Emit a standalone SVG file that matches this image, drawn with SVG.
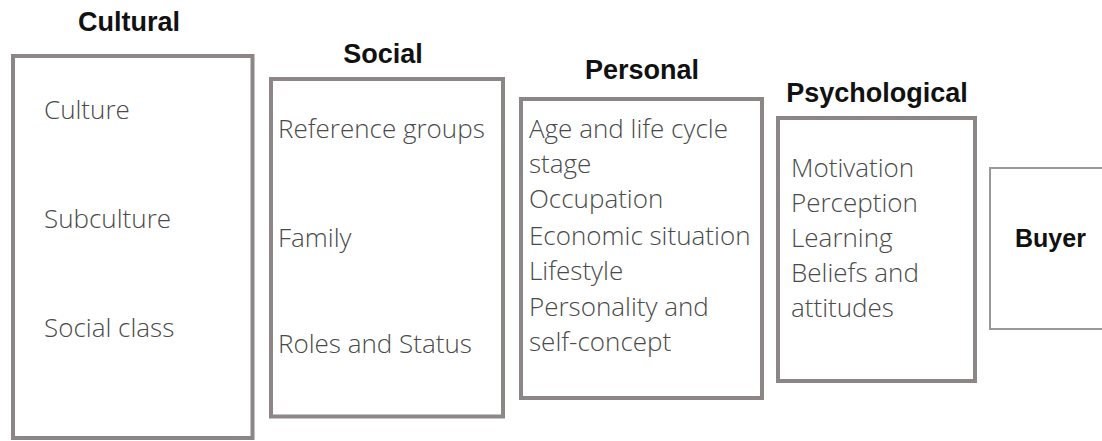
<svg xmlns="http://www.w3.org/2000/svg" width="1102" height="441" viewBox="0 0 1102 441">
<style>
.box{fill:#fff;stroke:#8c8686;stroke-width:4}
.buyer{fill:#fff;stroke:#999;stroke-width:2}
.title{font-family:"Liberation Sans",Arial,sans-serif;font-weight:bold;font-size:27px;fill:#111}
.item{font-family:"Open Sans","Noto Sans",sans-serif;font-weight:300;font-size:26px;fill:#4a4a4a}
</style>
<rect width="1102" height="441" fill="#fff"/>
<g id="cultural">
<text class="title" x="129" y="31" text-anchor="middle">Cultural</text>
<rect class="box" x="13" y="56" width="239.5" height="382"/>
<text class="item" x="44" y="119">Culture</text>
<text class="item" x="44" y="228">Subculture</text>
<text class="item" x="44" y="337">Social class</text>
</g>
<g id="social">
<text class="title" x="383" y="63" text-anchor="middle">Social</text>
<rect class="box" x="271" y="79" width="232" height="337.5"/>
<text class="item" x="278" y="138">Reference groups</text>
<text class="item" x="278" y="247">Family</text>
<text class="item" x="278" y="353">Roles and Status</text>
</g>
<g id="personal">
<text class="title" x="642" y="79" text-anchor="middle">Personal</text>
<rect class="box" x="521" y="99" width="241" height="299"/>
<text class="item" x="529" y="138">Age and life cycle</text>
<text class="item" x="529" y="173">stage</text>
<text class="item" x="529" y="208">Occupation</text>
<text class="item" x="529" y="245">Economic situation</text>
<text class="item" x="529" y="280">Lifestyle</text>
<text class="item" x="529" y="316">Personality and</text>
<text class="item" x="529" y="351">self-concept</text>
</g>
<g id="psychological">
<text class="title" x="877" y="102" text-anchor="middle">Psychological</text>
<rect class="box" x="778" y="118" width="197" height="263"/>
<text class="item" x="791" y="177">Motivation</text>
<text class="item" x="791" y="212">Perception</text>
<text class="item" x="791" y="247">Learning</text>
<text class="item" x="791" y="282">Beliefs and</text>
<text class="item" x="791" y="317">attitudes</text>
</g>
<g id="buyer">
<rect class="buyer" x="990" y="168" width="130" height="161"/>
<text class="title" x="1015" y="247" style="font-size:25px">Buyer</text>
</g>
<g id="connectors"/>
</svg>
